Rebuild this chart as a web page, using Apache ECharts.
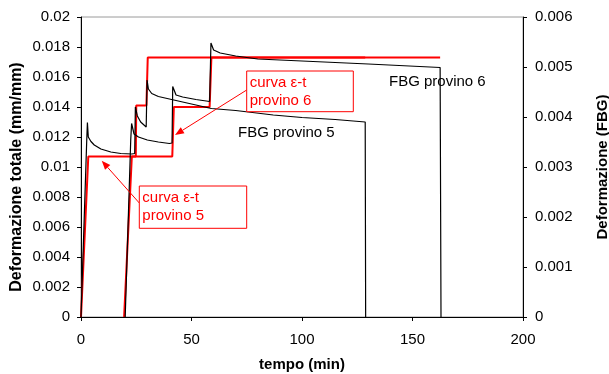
<!DOCTYPE html>
<html>
<head>
<meta charset="utf-8">
<script src="https://cdn.jsdelivr.net/npm/echarts@6/dist/echarts.min.js"></script>
<style>
  html, body { margin: 0; padding: 0; background: #fff; }
  #chart { width: 609px; height: 374px; }
</style>
</head>
<body>
<div id="chart"></div>
<script>
// tempo (min) / deformazione totale (mm/mm) - curve ε-t (asse sinistro)
const redT5 = [0, 3.3, 24.8, 25.0, 29.6, 30.2, 128.6];
const redV5 = [0, 0.0107, 0.0107, 0.0141, 0.0141, 0.0173, 0.0173];
const redT6 = [19.5, 23.0, 41.3, 42.0, 58.2, 59.0, 162.5];
const redV6 = [0, 0.0107, 0.0107, 0.0140, 0.0140, 0.0173, 0.0173];

// FBG (asse destro)
const fbgT5 = [0, 2.6, 2.9, 3.3, 4.5, 6, 9, 13.5, 18, 23, 24.3, 24.6, 25.5, 27, 29.5, 29.9, 30.5, 32, 35, 42, 50, 59, 70, 87, 100, 115, 128.6, 128.8];
const fbgV5 = [0, 0.00354, 0.00389, 0.00360, 0.00351, 0.00344, 0.00336, 0.00330, 0.00327, 0.00326, 0.00327, 0.00420, 0.00402, 0.00390, 0.00380, 0.00474, 0.00456, 0.00447, 0.00441, 0.00434, 0.00426, 0.00417, 0.00413, 0.00404, 0.00399, 0.00395, 0.00390, 0];
const fbgT6 = [20, 22.5, 22.9, 24, 26, 30, 35, 40, 41.2, 41.5, 43, 46, 52, 58.2, 58.8, 60, 63, 70, 80, 100, 130, 162.5, 162.9];
const fbgV6 = [0, 0.00354, 0.00387, 0.00366, 0.00360, 0.00354, 0.00350, 0.00347, 0.00348, 0.00461, 0.00444, 0.00440, 0.00435, 0.00431, 0.00548, 0.00534, 0.00528, 0.00522, 0.00516, 0.00512, 0.00506, 0.00499, 0];

const xTicks = [0, 200, 50];
const yLeft = [0, 0.02, 0.002];
const yRight = [0, 0.006, 0.001];

const pairs = (t, v) => t.map((x, i) => [x, v[i]]);

const FONT = "'Liberation Sans', Arial, sans-serif";
const RED = '#ff0000';

function arrow(x1, y1, x2, y2) {
  const a = Math.atan2(y2 - y1, x2 - x1);
  const L = 9, W = 3.5;
  const bx = x2 - L * Math.cos(a), by = y2 - L * Math.sin(a);
  const px = -Math.sin(a) * W, py = Math.cos(a) * W;
  return [
    { type: 'line', shape: { x1: x1, y1: y1, x2: bx, y2: by }, style: { stroke: RED, lineWidth: 1 }, z: 100 },
    { type: 'polygon', shape: { points: [[x2, y2], [bx + px, by + py], [bx - px, by - py]] }, style: { fill: RED }, z: 100 }
  ];
}

function box(x, y, w, h, lines) {
  const els = [{ type: 'rect', shape: { x: x, y: y, width: w, height: h }, style: { fill: '#fff', stroke: RED, lineWidth: 1 }, z: 100 }];
  lines.forEach((s, i) => {
    els.push({ type: 'text', x: x + 3, y: y + 4 + i * 18, style: { text: s, fill: RED, font: '15px ' + FONT }, z: 101 });
  });
  return els;
}

const chart = echarts.init(document.getElementById('chart'));

chart.setOption({
  animation: false,
  backgroundColor: '#fff',
  textStyle: { fontFamily: FONT },
  grid: { left: 81, right: 86, top: 17, bottom: 57, outerBoundsMode: 'none', containLabel: false, show: true, borderColor: '#9a9a9a', borderWidth: 1 },
  xAxis: {
    type: 'value', min: xTicks[0], max: xTicks[1], interval: xTicks[2],
    name: 'tempo (min)', nameLocation: 'middle', nameGap: 40,
    nameTextStyle: { fontWeight: 'bold', fontSize: 15, color: '#000' },
    axisLine: { onZero: false, lineStyle: { color: '#000', width: 1 } },
    axisTick: { show: true, length: 4, lineStyle: { color: '#000' } },
    axisLabel: { fontSize: 15, color: '#000', margin: 15 },
    splitLine: { show: false }
  },
  yAxis: [{
    type: 'value', min: yLeft[0], max: yLeft[1], interval: yLeft[2], position: 'left',
    axisLine: { show: true, onZero: false, lineStyle: { color: '#000', width: 1 } },
    axisTick: { show: true, length: 4, lineStyle: { color: '#000' } },
    axisLabel: { fontSize: 15, color: '#000', margin: 11 },
    splitLine: { show: false }
  }, {
    type: 'value', min: yRight[0], max: yRight[1], interval: yRight[2], position: 'right',
    name: 'Deformazione (FBG)', nameLocation: 'middle', nameGap: 72, nameRotate: 90,
    nameTextStyle: { fontWeight: 'bold', fontSize: 15, color: '#000' },
    axisLine: { show: true, onZero: false, lineStyle: { color: '#000', width: 1 } },
    axisTick: { show: true, length: 4, lineStyle: { color: '#000' } },
    axisLabel: { fontSize: 15, color: '#000', margin: 12 },
    splitLine: { show: false }
  }],
  series: [
    { name: 'FBG provino 5', type: 'line', yAxisIndex: 1, data: pairs(fbgT5, fbgV5), showSymbol: false, lineStyle: { color: '#000', width: 1.2 }, z: 3 },
    { name: 'FBG provino 6', type: 'line', yAxisIndex: 1, data: pairs(fbgT6, fbgV6), showSymbol: false, lineStyle: { color: '#000', width: 1.2 }, z: 3 },
    { name: 'curva ε-t provino 5', type: 'line', yAxisIndex: 0, data: pairs(redT5, redV5), showSymbol: false, lineStyle: { color: RED, width: 2 }, z: 2 },
    { name: 'curva ε-t provino 6', type: 'line', yAxisIndex: 0, data: pairs(redT6, redV6), showSymbol: false, lineStyle: { color: RED, width: 2 }, z: 2 }
  ],
  graphic: [
    { type: 'text', x: 17, y: 177, rotation: Math.PI / 2,
      style: { text: 'Deformazione totale (mm/mm)', fill: '#000', font: 'bold 16px ' + FONT, align: 'center', verticalAlign: 'middle' } },
    ...arrow(246.7, 90, 175, 135),
    ...box(246.7, 71, 106.6, 40.7, ['curva ε-t', 'provino 6']),
    ...arrow(139.3, 203, 101.7, 160.7),
    ...box(139.3, 186, 107.4, 42.3, ['curva ε-t', 'provino 5']),
    { type: 'text', x: 238, y: 125, style: { text: 'FBG provino 5', fill: '#000', font: '15px ' + FONT }, z: 100 },
    { type: 'text', x: 389, y: 74, style: { text: 'FBG provino 6', fill: '#000', font: '15px ' + FONT }, z: 100 }
  ]
});
</script>
</body>
</html>
